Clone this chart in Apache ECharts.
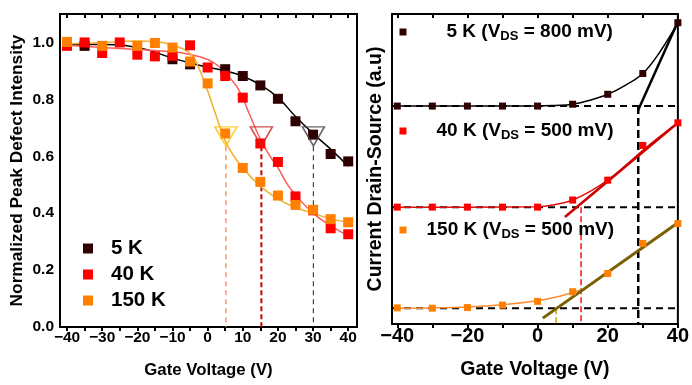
<!DOCTYPE html>
<html>
<head>
<meta charset="utf-8">
<script src="https://cdn.jsdelivr.net/npm/echarts@6/dist/echarts.min.js"></script>
<style>html,body{margin:0;padding:0;background:#fff}#c{width:692px;height:385px}</style>
</head>
<body>
<div id="c"></div>
<script>
// ---------- LEFT PANEL DATA (Normalized Peak Defect Intensity) ----------
const leftXTicks = [-40, -30, -20, -10, 0, 10, 20, 30, 40];
const leftYTicks = [0, 0.2, 0.4, 0.6, 0.8, 1.0];
const pts5K_x   = [-35, -10, -5, 5, 10, 15, 20, 25, 30, 35, 40];
const pts5K_y   = [0.988, 0.941, 0.923, 0.906, 0.882, 0.849, 0.802, 0.723, 0.676, 0.608, 0.582];
const pts40K_x  = [-40, -35, -30, -25, -20, -15, -10, -5, 0, 5, 10, 15, 20, 25, 30, 35, 40];
const pts40K_y  = [0.988, 1.0, 0.963, 1.0, 0.957, 0.951, 0.953, 0.99, 0.912, 0.882, 0.806, 0.645, 0.58, 0.459, 0.41, 0.347, 0.326];
const pts150K_x = [-40, -30, -20, -15, -10, -5, 0, 5, 10, 15, 20, 25, 30, 35, 40];
const pts150K_y = [1.002, 0.988, 0.988, 0.998, 0.982, 0.933, 0.856, 0.68, 0.559, 0.51, 0.462, 0.429, 0.412, 0.379, 0.368];
const fit5K_x   = [-40, -30, -20, -10, -5, 0, 5, 10, 15, 20, 25, 30, 35, 40];
const fit5K_y   = [0.993, 0.993, 0.982, 0.945, 0.928, 0.913, 0.9, 0.881, 0.851, 0.806, 0.74, 0.68, 0.625, 0.565];
const fit40K_x  = [-40, -30, -20, -10, -5, 0, 3, 6, 9, 12, 15, 17.5, 20, 22.5, 25, 30, 35, 40];
const fit40K_y  = [0.99, 0.982, 0.975, 0.967, 0.958, 0.94, 0.918, 0.88, 0.83, 0.745, 0.66, 0.605, 0.56, 0.505, 0.465, 0.4, 0.356, 0.32];
const fit150K_x = [-40, -30, -20, -15, -10, -5, -2.5, 0, 2.5, 5, 7.5, 10, 12.5, 15, 20, 25, 30, 35, 40];
const fit150K_y = [0.995, 1.0, 1.005, 1.003, 0.99, 0.962, 0.91, 0.83, 0.74, 0.655, 0.6, 0.56, 0.525, 0.495, 0.45, 0.42, 0.4, 0.38, 0.368];
const thresholdV   = [5.2, 15.3, 30.1];      // triangle markers / dashed lines (150K, 40K, 5K)
const thresholdI   = 0.67;
const dashTopI     = 0.635;

// ---------- RIGHT PANEL DATA (Current Drain-Source, a.u.) ----------
const rightXTicks = [-40, -20, 0, 20, 40];
const gateV = [-40, -30, -20, -10, 0, 10, 20, 30, 40];
const ids5K   = [7.03, 7.03, 7.03, 7.03, 7.03, 7.09, 7.41, 8.08, 9.72];
const ids40K  = [3.77, 3.77, 3.77, 3.77, 3.77, 4.0, 4.64, 5.76, 6.49];
const ids150K = [0.52, 0.51, 0.53, 0.61, 0.73, 1.04, 1.63, 2.6, 3.24];
const curve5K_x   = [-40, -20, 0, 5, 10, 15, 20, 25, 30, 35, 40];
const curve5K_y   = [7.03, 7.03, 7.03, 7.05, 7.09, 7.22, 7.41, 7.7, 8.08, 8.8, 9.72];
const curve40K_x  = [-40, -20, 0, 5, 10, 15, 20, 25, 30, 35, 40];
const curve40K_y  = [3.77, 3.77, 3.78, 3.85, 4.0, 4.28, 4.64, 5.1, 5.6, 6.06, 6.49];
const curve150K_x = [-40, -30, -20, -10, 0, 5, 10, 13];
const curve150K_y = [0.51, 0.52, 0.55, 0.62, 0.75, 0.86, 1.02, 1.11];
const tangent5K_x   = [28.6, 40];  const tangent5K_y   = [6.88, 9.75];
const tangent40K_x  = [7.8, 40];   const tangent40K_y  = [3.45, 6.49];
const tangent150K_x = [1.5, 39.7]; const tangent150K_y = [0.19, 3.24];
const baseline_y  = [7.03, 3.77, 0.51];   // 5K, 40K, 150K off-state levels
const onsetV      = [28.7, 12.4, 5.3];    // 5K, 40K, 150K extrapolated onsets

// ---------- helpers ----------
const zip = (xs, ys) => xs.map((x, i) => [x, ys[i]]);
const FONT = 'Liberation Sans, Arial, sans-serif';
const minus = v => String(v).replace('-', '\u2212');
const C5 = '#2E0000', C40 = '#FF0000', C150 = '#FF8000';

function vline(name, x, y0, y1, color, width, dash, xi, yi) {
  return { name, type: 'line', xAxisIndex: xi, yAxisIndex: yi, data: [[x, y0], [x, y1]],
    showSymbol: false, silent: true, lineStyle: { color, width, type: dash }, z: 2 };
}
function hline(name, y, x0, x1, xi, yi) {
  return { name, type: 'line', xAxisIndex: xi, yAxisIndex: yi, data: [[x0, y], [x1, y]],
    showSymbol: false, silent: true, lineStyle: { color: '#000', width: 2, type: [7, 5] }, z: 2 };
}
function fit(name, xs, ys, color, width, xi, yi, smooth) {
  return { name, type: 'line', xAxisIndex: xi, yAxisIndex: yi, data: zip(xs, ys), smooth: smooth,
    showSymbol: false, silent: true, lineStyle: { color, width }, z: 3 };
}
function pts(name, xs, ys, color, size, xi, yi, z) {
  return { name, type: 'scatter', xAxisIndex: xi, yAxisIndex: yi, data: zip(xs, ys),
    symbol: 'rect', symbolSize: size, itemStyle: { color, opacity: 1 }, z: z || 4 };
}

const series = [
  vline('d150', thresholdV[0], dashTopI, 0, '#FF9060', 1.5, [5, 4], 0, 0),
  vline('d40',  thresholdV[1], dashTopI, 0, '#CC0000', 2, [5, 3], 0, 0),
  vline('d5',   thresholdV[2], dashTopI, 0, '#404040', 1.2, [5, 4], 0, 0),
  fit('f5', fit5K_x, fit5K_y, '#000000', 1.5, 0, 0, true),
  fit('f40', fit40K_x, fit40K_y, '#FF5A5A', 1.5, 0, 0, true),
  fit('f150', fit150K_x, fit150K_y, '#F0B030', 1.5, 0, 0, true),
  pts('5 K', pts5K_x, pts5K_y, C5, 10, 0, 0, 4),
  pts('40 K', pts40K_x, pts40K_y, C40, 10, 0, 0, 5),
  pts('150 K', pts150K_x, pts150K_y, C150, 10, 0, 0, 6),
  { name: 'tri', type: 'scatter', xAxisIndex: 0, yAxisIndex: 0, silent: true, z: 7,
    data: [
      { value: [thresholdV[0], thresholdI], itemStyle: { borderColor: '#FFC000' } },
      { value: [thresholdV[1], thresholdI], itemStyle: { borderColor: '#CC2020' } },
      { value: [thresholdV[2], thresholdI], itemStyle: { borderColor: '#404040' } }
    ],
    symbol: 'triangle', symbolRotate: 180, symbolSize: [22, 19],
    itemStyle: { color: 'rgba(0,0,0,0)', borderWidth: 1.5 } },

  hline('h5', baseline_y[0], -41.5, 40, 2, 1),
  hline('h40', baseline_y[1], -41.5, 40, 2, 1),
  hline('h150', baseline_y[2], -41.5, 40, 2, 1),
  vline('v5', onsetV[0], baseline_y[0], 0, '#000000', 2.5, [8, 4], 2, 1),
  vline('v40', onsetV[1], baseline_y[1], 0, '#FF1010', 1.5, [6, 3], 2, 1),
  vline('v150', onsetV[2], baseline_y[2], 0, '#C8A020', 1.5, [6, 3], 2, 1),
  fit('c5', curve5K_x, curve5K_y, '#000000', 1.5, 2, 1, 0.4),
  fit('c40', curve40K_x, curve40K_y, '#E01010', 1.5, 2, 1, 0.4),
  fit('c150', curve150K_x, curve150K_y, '#FF8A30', 1.5, 2, 1, 0.4),
  fit('t5', tangent5K_x, tangent5K_y, '#000000', 2.5, 2, 1, false),
  fit('t40', tangent40K_x, tangent40K_y, '#CC0000', 2.5, 2, 1, false),
  fit('t150', tangent150K_x, tangent150K_y, '#7A6000', 3, 2, 1, false),
  pts('R5', gateV, ids5K, C5, 7, 2, 1, 8),
  pts('R40', gateV, ids40K, C40, 7, 2, 1, 8),
  pts('R150', gateV, ids150K, C150, 7, 2, 1, 8)
];

function rightLegend(name, top, spacer, label) {
  return {
    data: [name], left: 399.5, top: top, icon: 'rect', itemWidth: 7, itemHeight: 7,
    selectedMode: false, padding: 0,
    formatter: () => label,
    textStyle: { fontFamily: FONT, fontWeight: 'bold', color: '#000',
      rich: {
        g: { width: spacer },
        a: { fontFamily: FONT, fontWeight: 'bold', fontSize: 19, color: '#000', lineHeight: 22 },
        s: { fontFamily: FONT, fontWeight: 'bold', fontSize: 13, color: '#000', lineHeight: 22, padding: [9, 0, 0, 0] }
      } }
  };
}

const option = {
  animation: false,
  backgroundColor: '#fff',
  grid: [
    { left: 60, top: 14, width: 297, height: 313, show: true, borderColor: '#000', borderWidth: 2, backgroundColor: 'transparent' },
    { left: 392, top: 14, width: 294, height: 313, show: true, borderColor: '#000', borderWidth: 2, backgroundColor: 'transparent' }
  ],
  xAxis: [
    { type: 'value', gridIndex: 0, min: -42, max: 42.5, position: 'bottom',
      name: 'Gate Voltage (V)', nameLocation: 'middle', nameGap: 35,
      nameTextStyle: { fontFamily: FONT, fontWeight: 'bold', fontSize: 16.8, color: '#000' },
      axisLine: { show: false }, splitLine: { show: false },
      axisTick: { show: true, inside: false, length: 4, lineStyle: { color: '#000', width: 2 }, customValues: [-40,-35,-30,-25,-20,-15,-10,-5,0,5,10,15,20,25,30,35,40] },
      axisLabel: { customValues: leftXTicks, formatter: minus, margin: 3, fontFamily: FONT, fontWeight: 'bold', fontSize: 15.5, color: '#000' } },
    { type: 'value', gridIndex: 0, min: -42, max: 42.5, position: 'top',
      axisLine: { show: false }, splitLine: { show: false }, axisLabel: { show: false },
      axisTick: { show: true, inside: true, length: 4, lineStyle: { color: '#000', width: 2 }, customValues: [-40,-35,-30,-25,-20,-15,-10,-5,0,5,10,15,20,25,30,35,40] } },
    { type: 'value', gridIndex: 1, min: -41.5, max: 40, position: 'bottom',
      name: 'Gate Voltage (V)', nameLocation: 'middle', nameGap: 36,
      nameTextStyle: { fontFamily: FONT, fontWeight: 'bold', fontSize: 19.5, color: '#000' },
      axisLine: { show: false }, splitLine: { show: false },
      axisTick: { show: true, inside: false, length: 4, lineStyle: { color: '#000', width: 2 }, customValues: [-40,-30,-20,-10,0,10,20,30,40] },
      axisLabel: { customValues: rightXTicks, formatter: minus, margin: 2, fontFamily: FONT, fontWeight: 'bold', fontSize: 20, color: '#000' } },
    { type: 'value', gridIndex: 1, min: -41.5, max: 40, position: 'top',
      axisLine: { show: false }, splitLine: { show: false }, axisLabel: { show: false },
      axisTick: { show: true, inside: true, length: 4, lineStyle: { color: '#000', width: 2 }, customValues: [-40,-30,-20,-10,0,10,20,30,40] } }
  ],
  yAxis: [
    { type: 'value', gridIndex: 0, min: 0, max: 1.1,
      name: 'Normalized Peak Defect Intensity', nameLocation: 'middle', nameGap: 34,
      nameTextStyle: { fontFamily: FONT, fontWeight: 'bold', fontSize: 17.3, color: '#000' },
      axisLine: { show: false }, splitLine: { show: false }, axisTick: { show: false },
      axisLabel: { customValues: leftYTicks, formatter: v => v.toFixed(1), margin: 6, fontFamily: FONT, fontWeight: 'bold', fontSize: 15.5, color: '#000' } },
    { type: 'value', gridIndex: 1, min: 0, max: 10,
      name: 'Current Drain-Source (a.u)', nameLocation: 'middle', nameGap: 6,
      nameTextStyle: { fontFamily: FONT, fontWeight: 'bold', fontSize: 19.5, color: '#000' },
      axisLine: { show: false }, splitLine: { show: false }, axisTick: { show: false }, axisLabel: { show: false } }
  ],
  legend: [
    { data: ['5 K', '40 K', '150 K'], orient: 'vertical', left: 83, top: 238, icon: 'rect',
      itemWidth: 10, itemHeight: 10, itemGap: 5, selectedMode: false, padding: 0,
      formatter: n => '{g|}{t|' + n + '}',
      textStyle: { rich: { g: { width: 13 }, t: { fontFamily: FONT, fontWeight: 'bold', fontSize: 20.5, color: '#000', lineHeight: 22 } } } },
    rightLegend('R5', 21, 35, '{g|}{a|5 K (V}{s|DS}{a| = 800 mV)}'),
    rightLegend('R40', 120, 25, '{g|}{a|40 K (V}{s|DS}{a| = 500 mV)}'),
    rightLegend('R150', 219, 15, '{g|}{a|150 K (V}{s|DS}{a| = 500 mV)}')
  ],
  series: series
};

const chart = echarts.init(document.getElementById('c'), null, { renderer: 'canvas' });
chart.setOption(option);
</script>
</body>
</html>
